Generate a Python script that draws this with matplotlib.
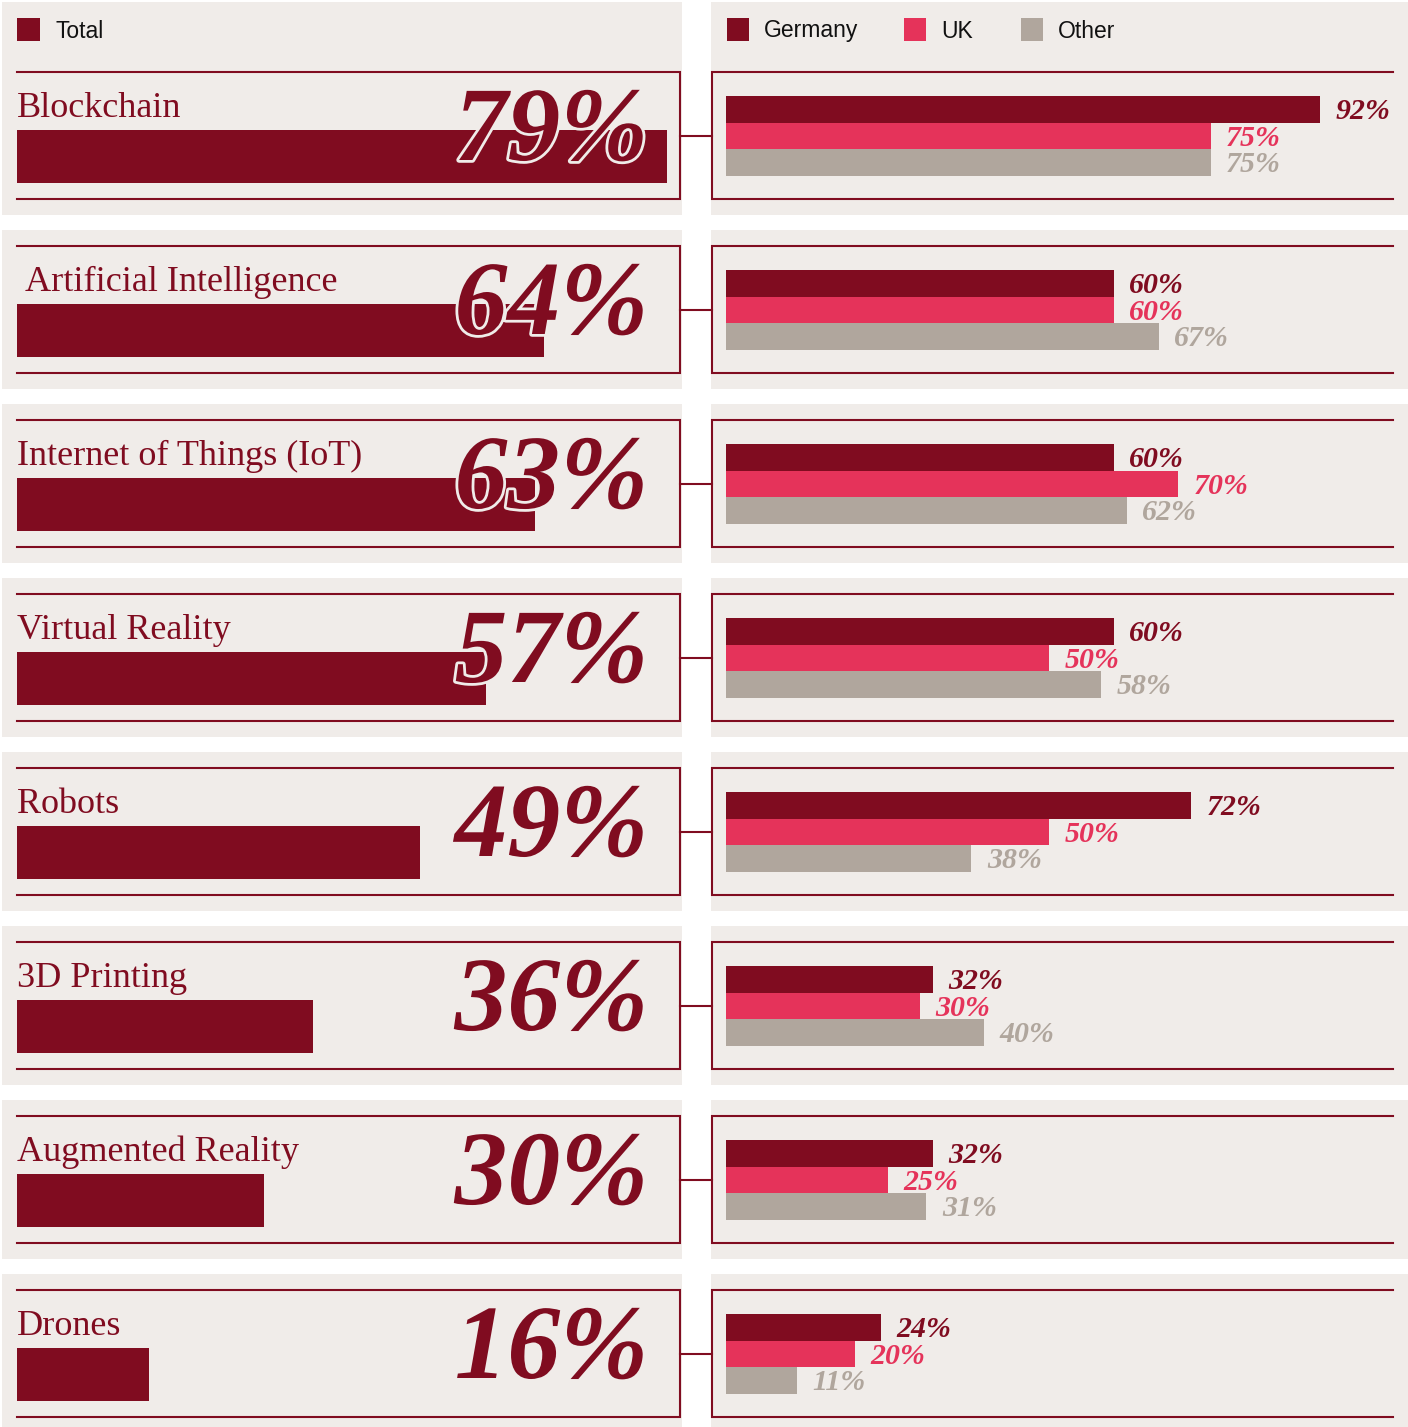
import matplotlib
matplotlib.use("Agg")
import matplotlib.pyplot as plt
import matplotlib.patheffects as pe
from matplotlib.patches import Rectangle

# data
categories = ["Blockchain", "Artificial Intelligence", "Internet of Things (IoT)",
              "Virtual Reality", "Robots", "3D Printing", "Augmented Reality", "Drones"]
total = [79, 64, 63, 57, 49, 36, 30, 16]
germany = [92, 60, 60, 60, 72, 32, 32, 24]
uk = [75, 60, 70, 50, 50, 30, 25, 20]
other = [75, 67, 62, 58, 38, 40, 31, 11]
series_names = ["Germany", "UK", "Other"]

DARK = "#800c20"
PINK = "#e5335a"
GREY = "#b0a69d"
BG = "#f0ece9"

W, H = 1408, 1427
fig = plt.figure(figsize=(W / 100, H / 100), dpi=100)
fig.patch.set_facecolor("white")


def fx(x):
    return x / W


def fy(y):
    return 1 - y / H


def px_axes(x, y, w, h, z=1):
    a = fig.add_axes([fx(x), fy(y + h), w / W, h / H], zorder=z)
    a.set_axis_off()
    a.patch.set_alpha(0)
    return a


# background axes in pixel coordinates
bg = fig.add_axes([0, 0, 1, 1], zorder=0)
bg.set_xlim(0, W)
bg.set_ylim(H, 0)
bg.set_axis_off()

serif = "Liberation Serif"
sans = "Liberation Sans"

for i, name in enumerate(categories):
    top = 56 + 174 * i
    ptop = 2 if i == 0 else top
    bg.add_patch(Rectangle((2, ptop), 680, top + 159 - ptop, color=BG, lw=0))
    bg.add_patch(Rectangle((711, ptop), 697, top + 159 - ptop, color=BG, lw=0))
    bt = top + 16
    bb = bt + 127
    # left box
    bg.plot([17, 680, 680, 17], [bt, bt, bb, bb], color=DARK, lw=1.5, solid_joinstyle="miter")
    # right box
    bg.plot([1393, 712, 712, 1393], [bt, bt, bb, bb], color=DARK, lw=1.5, solid_joinstyle="miter")
    # connector
    bg.plot([680, 712], [(bt + bb) / 2] * 2, color=DARK, lw=1.5)

    # total bar
    axL = px_axes(17, bt + 58, 823, 53)
    axL.barh([0], [total[i]], height=1, color=DARK)
    axL.set_xlim(0, 100)
    axL.set_ylim(-0.5, 0.5)

    lx = 25 if i == 1 else 17
    fig.text(fx(lx), fy(bt + 45), name, family=serif, fontsize=26, color=DARK, va="baseline")
    fig.text(fx(648), fy(bt + 88), f"{total[i]}%", family=serif, fontsize=76,
             fontweight="bold", style="italic", color=DARK, ha="right", va="baseline",
             path_effects=[pe.withStroke(linewidth=4, foreground=BG)], zorder=5)

    # country bars
    axR = px_axes(726, bt + 24, 646, 79.5)
    vals = [germany[i], uk[i], other[i]]
    cols = [DARK, PINK, GREY]
    axR.barh([0, 1, 2], vals, height=1, color=cols)
    axR.set_xlim(0, 100)
    axR.set_ylim(2.5, -0.5)
    for k, v in enumerate(vals):
        axR.text(v + 2.4, k + 0.38, f"{v}%", family=serif, fontsize=21.5, fontweight="bold",
                 style="italic", color=cols[k], va="baseline", clip_on=False)

# legends
bg.add_patch(Rectangle((17, 18), 23, 23, color=DARK, lw=0))
fig.text(fx(55), fy(31), "Total", family=sans, fontsize=16.5, color="#111111", va="center")
for name, c, x in zip(series_names, [DARK, PINK, GREY], [727, 904, 1021]):
    bg.add_patch(Rectangle((x, 18), 22, 23, color=c, lw=0))
    fig.text(fx(x + 37), fy(31), name, family=sans, fontsize=16.5, color="#111111", va="center")

fig.savefig("out.png", dpi=100, facecolor="white")
